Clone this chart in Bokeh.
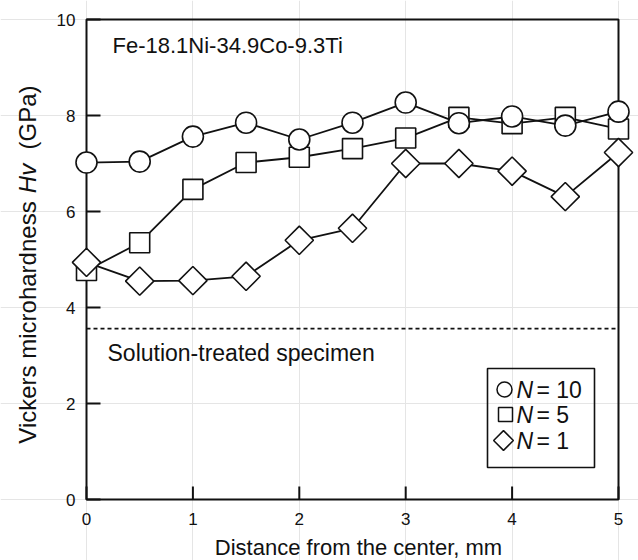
from math import pi
from bokeh.plotting import figure
from bokeh.models import Range1d, Label, ColumnDataSource
from bokeh.core.properties import value
from bokeh.embed import file_html
from bokeh.resources import INLINE

# ---- data ----
distance_mm = [0, 0.5, 1, 1.5, 2, 2.5, 3, 3.5, 4, 4.5, 5]
hv_n10 = [7.02, 7.04, 7.56, 7.85, 7.50, 7.85, 8.27, 7.84, 7.98, 7.79, 8.08]
hv_n5 = [4.77, 5.35, 6.46, 7.02, 7.13, 7.31, 7.53, 7.96, 7.83, 7.96, 7.72]
hv_n1 = [4.94, 4.55, 4.56, 4.65, 5.40, 5.65, 7.00, 7.00, 6.84, 6.31, 7.23]
solution_treated_hv = 3.56
x_ticks = [0, 1, 2, 3, 4, 5]
y_ticks = [0, 2, 4, 6, 8, 10]
x_tick_labels = ["0", "1", "2", "3", "4", "5"]
y_tick_labels = ["0", "2", "4", "6", "8", "10"]
legend_names = ["= 10", "= 5", "= 1"]

FONT = "Liberation Sans"
INK = "#111111"

# layout geometry (pixels): the frame covers the whole canvas and the
# visible axes box is drawn inside it
W, H = 638, 560
BOX_L, BOX_R, BOX_T, BOX_B = 86, 618, 19, 499
XMIN, XMAX, YMIN, YMAX = x_ticks[0], x_ticks[-1], y_ticks[0], y_ticks[-1]
sx = (BOX_R - BOX_L) / (XMAX - XMIN)   # px per x unit
sy = (BOX_B - BOX_T) / (YMAX - YMIN)   # px per y unit

def dx(px):  # page x -> data x
    return XMIN + (px - BOX_L) / sx

def dy(py):  # page y -> data y
    return YMIN + (BOX_B - py) / sy

p = figure(width=W, height=H, output_backend="svg", toolbar_location=None,
           x_range=Range1d(dx(0), dx(W)), y_range=Range1d(dy(H), dy(0)),
           x_axis_location=None, y_axis_location=None,
           min_border=0, min_border_left=0, min_border_right=0,
           min_border_top=0, min_border_bottom=0)
p.background_fill_color = "white"
p.border_fill_color = "white"
p.outline_line_color = None

# axes box
p.quad(left=[XMIN], right=[XMAX], bottom=[YMIN], top=[YMAX],
       fill_color=None, line_color=INK, line_width=2)

# inward ticks
p.segment(x0=x_ticks, y0=[YMIN] * len(x_ticks), x1=x_ticks,
          y1=[YMIN + 13 / sy] * len(x_ticks), line_color=INK, line_width=2)
p.segment(x0=[XMIN] * len(y_ticks), y0=y_ticks, x1=[XMIN + 14 / sx] * len(y_ticks),
          y1=y_ticks, line_color=INK, line_width=2)

# tick labels
p.text(x=x_ticks, y=[YMIN - 19 / sy] * len(x_ticks), text=x_tick_labels,
       text_font=value(FONT), text_font_size="17px", text_color=INK,
       text_align="center", text_baseline="middle")
p.text(x=[XMIN - 11 / sx] * len(y_ticks), y=y_ticks, text=y_tick_labels,
       text_font=value(FONT), text_font_size="17px", text_color=INK,
       text_align="right", text_baseline="middle")

# solution-treated level (dotted)
p.line(x=[XMIN, XMAX], y=[solution_treated_hv, solution_treated_hv],
       line_color=INK, line_width=1.6, line_dash="4 3")

src = ColumnDataSource(dict(x=distance_mm, n10=hv_n10, n5=hv_n5, n1=hv_n1))

def series(col, marker, size, angle=0.0):
    r1 = p.line("x", col, source=src, line_color=INK, line_width=1.8)
    r2 = p.scatter("x", col, source=src, marker=marker, size=size, angle=angle,
                   fill_color="white", line_color=INK, line_width=1.6)
    r1.level = "overlay"
    r2.level = "overlay"

series("n5", "square", 20)
series("n10", "circle", 21)
series("n1", "square", 20, pi / 4)

# texts
def label(text, x, y, size, **kw):
    p.add_layout(Label(x=x, y=y, text=text, text_font=FONT, text_font_size=size,
                       text_color=INK, text_baseline="middle", **kw))

label("Fe-18.1Ni-34.9Co-9.3Ti", dx(112), dy(45), "22px")
label("Solution-treated specimen", dx(107), dy(352), "23px")

# axis titles
label("Distance from the center, mm", dx(358), dy(547), "22px", text_align="center")
label("Vickers microhardness", dx(27), dy(322), "24px", angle=pi / 2,
      text_align="center")
label("Hv", dx(27), dy(178), "24px", angle=pi / 2, text_align="center",
      text_font_style="italic")
label("(GPa)", dx(27), dy(117), "24px", angle=pi / 2, text_align="center")

# legend
p.quad(left=[dx(487)], right=[dx(594)], bottom=[dy(467)], top=[dy(368)],
       fill_color=None, line_color=INK, line_width=1.6)
row_px = [389, 414, 440]
leg_src = ColumnDataSource(dict(x=[dx(504), dx(505), dx(503)], y=[dy(r) for r in row_px],
                                m=["circle", "square", "square"],
                                s=[15, 14, 14], a=[0, 0, pi / 4]))
lr = p.scatter("x", "y", source=leg_src, marker="m", size="s", angle="a",
               fill_color="white", line_color=INK, line_width=1.5)
lr.level = "overlay"
for name, r in zip(legend_names, row_px):
    label("N", dx(516), dy(r), "23px", text_font_style="italic")
    label(name, dx(536), dy(r), "23px")

open("out.html", "w").write(file_html(p, INLINE))
